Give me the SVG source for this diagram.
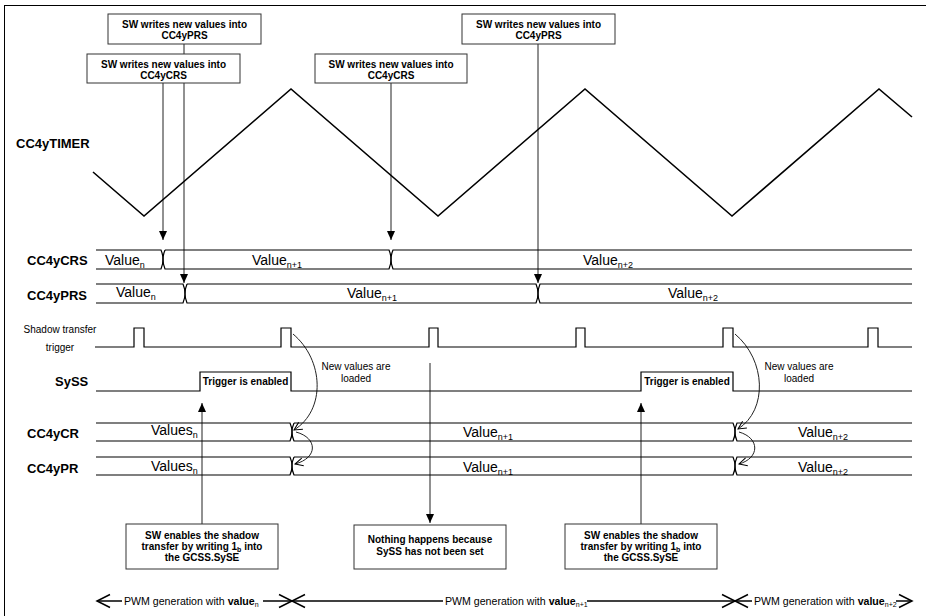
<svg xmlns="http://www.w3.org/2000/svg" width="926" height="616" viewBox="0 0 926 616">
<style>
text{font-family:"Liberation Sans",Arial,sans-serif;fill:#000}
.lbl{font-size:13px;font-weight:bold}
.val{font-size:14px}
.sub{font-size:9px}
.bx{font-size:10px;font-weight:bold;text-anchor:middle}
.sm{font-size:10px;text-anchor:middle}
.pwm{font-size:10.6px}
.psub{font-size:7px}
.box{fill:#fff;stroke:#333;stroke-width:1}
.sig{fill:none;stroke:#000;stroke-width:1.2}
.tim{fill:none;stroke:#000;stroke-width:1.6}
.con{fill:none;stroke:#222;stroke-width:1}
.pl{fill:none;stroke:#000;stroke-width:1.5}
</style>
<defs>
<marker id="fa" viewBox="0 0 9 8" refX="9" refY="4" markerWidth="9" markerHeight="8" markerUnits="userSpaceOnUse" orient="auto"><path d="M0,0 L9,4 L0,8 z" fill="#000"/></marker>
<marker id="oa" viewBox="-1 -1 10 10" refX="8" refY="4" markerWidth="10" markerHeight="10" markerUnits="userSpaceOnUse" orient="auto"><path d="M0,0 L8,4 L0,8" fill="none" stroke="#000" stroke-width="1"/></marker>
<marker id="pa" viewBox="-2 -2 17 17" refX="13" refY="6.5" markerWidth="17" markerHeight="17" markerUnits="userSpaceOnUse" orient="auto-start-reverse"><path d="M0,0 L13,6.5 L0,13" fill="none" stroke="#000" stroke-width="1.5"/></marker>
</defs>
<rect x="4.5" y="5.5" width="940" height="640" fill="none" stroke="#000" stroke-width="1"/>

<g id="connectors">
<path class="con" d="M163,83 V240" marker-end="url(#fa)"/>
<path class="con" d="M184,44 V283" marker-end="url(#fa)"/>
<path class="con" d="M391,83 V240" marker-end="url(#fa)"/>
<path class="con" d="M538,44 V283" marker-end="url(#fa)"/>
<path class="con" d="M202,524 V403" marker-end="url(#fa)"/>
<path class="con" d="M641,524 V403" marker-end="url(#fa)"/>
<path class="con" d="M430,363 V523" marker-end="url(#fa)"/>
<path class="con" d="M293,334 C324,360 326,410 294,430" marker-end="url(#oa)"/>
<path class="con" d="M296,432 C318,438 318,458 295,464" marker-end="url(#oa)"/>
<path class="con" d="M735,334 C766,360 768,410 738,429" marker-end="url(#oa)"/>
<path class="con" d="M739,432 C760,438 760,458 739,464" marker-end="url(#oa)"/>
<path class="pl" d="M97,601 H122" marker-start="url(#pa)"/>
<path class="pl" d="M263,601 H292" marker-end="url(#pa)"/>
<path class="pl" d="M292,601 H443" marker-start="url(#pa)"/>
<path class="pl" d="M587,601 H735" marker-end="url(#pa)"/>
<path class="pl" d="M735,601 H752" marker-start="url(#pa)"/>
<path class="pl" d="M896,601 H912" marker-end="url(#pa)"/>
</g>

<g id="timer">
<text class="lbl" x="16" y="148">CC4yTIMER</text>
<polyline class="tim" points="93,172 144,216 291,89 438,216 585,89 732,216 879,89 912,117"/>
</g>

<g id="crs">
<text class="lbl" x="27" y="265">CC4yCRS</text>
<path class="sig" d="M96,250 H161 Q165,259.5 161,269 H96"/>
<path class="sig" d="M165,250 H389 Q393,259.5 389,269 H165 Q161,259.5 165,250"/>
<path class="sig" d="M912,250 H393 Q389,259.5 393,269 H912"/>
<text class="val" x="105" y="265">Value<tspan class="sub" dy="2.5">n</tspan></text>
<text class="val" x="252" y="265">Value<tspan class="sub" dy="2.5">n+1</tspan></text>
<text class="val" x="583" y="265">Value<tspan class="sub" dy="2.5">n+2</tspan></text>
</g>

<g id="prs">
<text class="lbl" x="27" y="300">CC4yPRS</text>
<path class="sig" d="M96,284 H183 Q187,293.5 183,303 H96"/>
<path class="sig" d="M187,284 H536 Q540,293.5 536,303 H187 Q183,293.5 187,284"/>
<path class="sig" d="M912,284 H540 Q536,293.5 540,303 H912"/>
<text class="val" x="116" y="297">Value<tspan class="sub" dy="2.5">n</tspan></text>
<text class="val" x="347" y="298">Value<tspan class="sub" dy="2.5">n+1</tspan></text>
<text class="val" x="668" y="298">Value<tspan class="sub" dy="2.5">n+2</tspan></text>
</g>

<g id="trigger">
<text class="sm" x="60" y="333">Shadow transfer</text>
<text class="sm" x="60" y="351">trigger</text>
<polyline class="sig" points="95,347 134,347 134,328 144,328 144,347 281,347 281,328 291,328 291,347 429,347 429,328 438,328 438,347 576,347 576,328 585,328 585,347 723,347 723,328 733,328 733,347 868,347 868,328 878,328 878,347 912,347"/>
</g>

<g id="syss">
<text class="lbl" x="55" y="386">SySS</text>
<polyline class="sig" points="96,391 200,391 200,372 291,372 291,391 641,391 641,372 733,372 733,391 912,391"/>
<text class="bx" x="245.5" y="385">Trigger is enabled</text>
<text class="bx" x="687" y="385">Trigger is enabled</text>
</g>

<g id="loaded-notes">
<text class="sm" x="356" y="370">New values are</text>
<text class="sm" x="356" y="382">loaded</text>
<text class="sm" x="799" y="370">New values are</text>
<text class="sm" x="799" y="382">loaded</text>
</g>

<g id="cr">
<text class="lbl" x="27" y="438">CC4yCR</text>
<path class="sig" d="M96,423 H290 Q294,432 290,441 H96"/>
<path class="sig" d="M294,423 H733 Q737,432 733,441 H294 Q290,432 294,423"/>
<path class="sig" d="M912,423 H737 Q733,432 737,441 H912"/>
<text class="val" x="151" y="435">Values<tspan class="sub" dy="2.5">n</tspan></text>
<text class="val" x="463" y="437">Value<tspan class="sub" dy="2.5">n+1</tspan></text>
<text class="val" x="798" y="437">Value<tspan class="sub" dy="2.5">n+2</tspan></text>
</g>

<g id="pr">
<text class="lbl" x="27" y="473">CC4yPR</text>
<path class="sig" d="M96,457 H290 Q294,466 290,475 H96"/>
<path class="sig" d="M294,457 H733 Q737,466 733,475 H294 Q290,466 294,457"/>
<path class="sig" d="M912,457 H737 Q733,466 737,475 H912"/>
<text class="val" x="151" y="471">Values<tspan class="sub" dy="2.5">n</tspan></text>
<text class="val" x="463" y="472">Value<tspan class="sub" dy="2.5">n+1</tspan></text>
<text class="val" x="798" y="472">Value<tspan class="sub" dy="2.5">n+2</tspan></text>
</g>

<g id="box-prs-1">
<rect class="box" x="108" y="14" width="153" height="30"/>
<text class="bx" x="184.5" y="28">SW writes new values into</text>
<text class="bx" x="184.5" y="39">CC4yPRS</text>
</g>
<g id="box-crs-1">
<rect class="box" x="87" y="54" width="153" height="29"/>
<text class="bx" x="163.5" y="68">SW writes new values into</text>
<text class="bx" x="163.5" y="79">CC4yCRS</text>
</g>
<g id="box-crs-2">
<rect class="box" x="315" y="54" width="152" height="29"/>
<text class="bx" x="391" y="68">SW writes new values into</text>
<text class="bx" x="391" y="79">CC4yCRS</text>
</g>
<g id="box-prs-2">
<rect class="box" x="462" y="14" width="153" height="30"/>
<text class="bx" x="538.5" y="28">SW writes new values into</text>
<text class="bx" x="538.5" y="39">CC4yPRS</text>
</g>

<g id="box-enable-1">
<rect class="box" x="126" y="524" width="152" height="45"/>
<text class="bx" x="202" y="539">SW enables the shadow</text>
<text class="bx" x="202" y="550">transfer by writing 1<tspan font-size="7" dy="1.5">b</tspan><tspan dy="-1.5"> into</tspan></text>
<text class="bx" x="202" y="561">the GCSS.SySE</text>
</g>
<g id="box-nothing">
<rect class="box" x="354" y="525" width="152" height="44"/>
<text class="bx" x="430" y="543">Nothing happens because</text>
<text class="bx" x="430" y="555">SySS has not been set</text>
</g>
<g id="box-enable-2">
<rect class="box" x="565" y="524" width="152" height="45"/>
<text class="bx" x="641" y="539">SW enables the shadow</text>
<text class="bx" x="641" y="550">transfer by writing 1<tspan font-size="7" dy="1.5">b</tspan><tspan dy="-1.5"> into</tspan></text>
<text class="bx" x="641" y="561">the GCSS.SySE</text>
</g>

<g id="pwm-labels">
<text class="pwm" x="124" y="605">PWM generation with <tspan font-weight="bold">value</tspan><tspan class="psub" dy="1.5">n</tspan></text>
<text class="pwm" x="445" y="605">PWM generation with <tspan font-weight="bold">value</tspan><tspan class="psub" dy="1.5">n+1</tspan></text>
<text class="pwm" x="754" y="605">PWM generation with <tspan font-weight="bold">value</tspan><tspan class="psub" dy="1.5">n+2</tspan></text>
</g>
</svg>
